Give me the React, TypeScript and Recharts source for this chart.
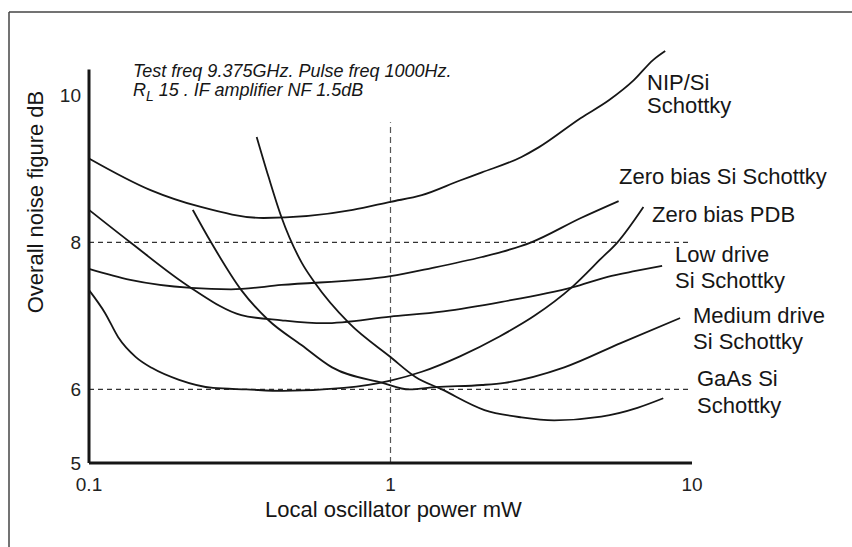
import { LineChart, Line, XAxis, YAxis, ReferenceLine } from 'recharts';

// power in mW (x) and noise figure in dB (y)
const nipX = [0.1, 0.16, 0.235, 0.379, 0.75, 1.0, 1.27, 1.7, 2.01, 2.72, 3.1, 4.28, 5.3, 6.4, 7.44, 8.15];
const nipY = [9.14, 8.71, 8.48, 8.33, 8.44, 8.55, 8.64, 8.84, 8.95, 9.16, 9.29, 9.69, 9.93, 10.2, 10.48, 10.6];

const zeroSiX = [0.1, 0.137, 0.218, 0.296, 0.435, 1.0, 1.37, 2.01, 2.34, 2.93, 4.28, 5.71];
const zeroSiY = [7.64, 7.49, 7.38, 7.36, 7.42, 7.54, 7.65, 7.8, 7.87, 8.0, 8.33, 8.56];

const pdbX = [0.1, 0.113, 0.125, 0.143, 0.162, 0.199, 0.258, 0.333, 0.44, 0.7, 1.0, 1.27, 1.7, 2.3, 3.0, 4.0, 5.0, 5.66, 6.9];
const pdbY = [7.35, 7.04, 6.71, 6.44, 6.29, 6.13, 6.02, 6.0, 5.98, 6.02, 6.12, 6.24, 6.45, 6.72, 7.0, 7.39, 7.78, 8.0, 8.48];

const lowX = [0.1, 0.137, 0.218, 0.32, 0.435, 0.6, 1.0, 1.5, 2.34, 4.03, 5.25, 6.5, 7.96];
const lowY = [8.44, 8.0, 7.38, 7.01, 6.94, 6.9, 6.99, 7.06, 7.19, 7.39, 7.53, 7.61, 7.68];

const medX = [0.221, 0.254, 0.32, 0.394, 0.508, 0.64, 0.94, 1.155, 1.41, 2.01, 2.39, 3.77, 5.8, 9.13];
const medY = [8.44, 8.0, 7.35, 6.94, 6.6, 6.3, 6.09, 6.0, 6.03, 6.06, 6.09, 6.3, 6.63, 6.97];

const gaasX = [0.36, 0.394, 0.435, 0.508, 0.561, 0.729, 1.0, 1.21, 1.48, 2.05, 2.72, 3.49, 5.0, 6.59, 8.03];
const gaasY = [9.43, 8.89, 8.34, 7.72, 7.45, 6.9, 6.44, 6.17, 6.0, 5.72, 5.62, 5.58, 5.63, 5.75, 5.88];

const xTicks = [0.1, 1, 10];
const yTicks = [5, 6, 8, 10];

const zip = (xs: number[], ys: number[]) => xs.map((x, i) => ({ x, y: ys[i] }));

const series = [
  { name: 'NIP/Si Schottky', data: zip(nipX, nipY) },
  { name: 'Zero bias Si Schottky', data: zip(zeroSiX, zeroSiY) },
  { name: 'Zero bias PDB', data: zip(pdbX, pdbY) },
  { name: 'Low drive Si Schottky', data: zip(lowX, lowY) },
  { name: 'Medium drive Si Schottky', data: zip(medX, medY) },
  { name: 'GaAs Si Schottky', data: zip(gaasX, gaasY) },
];

const font = '"Liberation Sans", Arial, Helvetica, sans-serif';
const ink = '#161616';

// curve labels: text, x, baseline
const labels: [string, number, number][] = [
  ['NIP/Si', 647, 90],
  ['Schottky', 647, 113],
  ['Zero bias Si Schottky', 619, 184],
  ['Zero bias PDB', 652, 222],
  ['Low drive', 675, 262],
  ['Si Schottky', 675, 288],
  ['Medium drive', 693, 323],
  ['Si Schottky', 693, 349],
  ['GaAs Si', 697, 386],
  ['Schottky', 697, 413],
];

export default function App() {
  return (
    <div style={{ position: 'absolute', left: 0, top: 0, width: 852, height: 547, background: '#fff' }}>
      <LineChart
        width={852}
        height={547}
        margin={{ top: 51, right: 160, bottom: 54, left: 0 }}
      >
        <XAxis
          dataKey="x"
          type="number"
          scale="log"
          domain={[0.1, 10]}
          ticks={xTicks}
          height={30}
          tickLine={false}
          tickMargin={9}
          axisLine={{ stroke: ink, strokeWidth: 3 }}
          tick={{ fontSize: 19, fill: '#222', fontFamily: font }}
          allowDuplicatedCategory={false}
        />
        <YAxis
          type="number"
          domain={[5, 10.6]}
          ticks={yTicks}
          width={89}
          axisLine={false}
          tickLine={false}
          tick={{ fontSize: 19, fill: '#222', fontFamily: font }}
        />
        <ReferenceLine y={6} stroke="#333" strokeWidth={1.2} strokeDasharray="5 4" />
        <ReferenceLine y={8} stroke="#333" strokeWidth={1.2} strokeDasharray="5 4" />
        <ReferenceLine
          segment={[{ x: 1, y: 5 }, { x: 1, y: 9.63 }]}
          stroke="#555"
          strokeWidth={1.2}
          strokeDasharray="6 4"
        />
        <ReferenceLine
          segment={[{ x: 0.1, y: 5 }, { x: 0.1, y: 10.35 }]}
          stroke={ink}
          strokeWidth={3}
        />
        {series.map((s) => (
          <Line
            key={s.name}
            data={s.data}
            dataKey="y"
            name={s.name}
            type="monotone"
            stroke={ink}
            strokeWidth={1.8}
            dot={false}
            isAnimationActive={false}
          />
        ))}
      </LineChart>

      <svg
        width={852}
        height={547}
        style={{ position: 'absolute', left: 0, top: 0, pointerEvents: 'none' }}
        fontFamily={font}
        fill={ink}
      >
        <line x1={9} y1={12} x2={852} y2={12} stroke="#444" strokeWidth={1.5} />
        <line x1={9} y1={12} x2={9} y2={547} stroke="#444" strokeWidth={1.5} />

        <text x={133} y={77} fontSize={18} fontStyle="italic">
          Test freq 9.375GHz. Pulse freq 1000Hz.
        </text>
        <text x={133} y={96} fontSize={18} fontStyle="italic">
          R<tspan fontSize={14} dy={5}>L</tspan>
          <tspan dy={-5}> 15 . IF amplifier NF 1.5dB</tspan>
        </text>

        {labels.map(([t, x, y], i) => (
          <text key={i} x={x} y={y} fontSize={22}>
            {t}
          </text>
        ))}

        <text x={265} y={517} fontSize={22}>
          Local oscillator power mW
        </text>
        <text x={43} y={202} fontSize={22} textAnchor="middle" transform="rotate(-90 43 202)">
          Overall noise figure dB
        </text>
      </svg>
    </div>
  );
}
